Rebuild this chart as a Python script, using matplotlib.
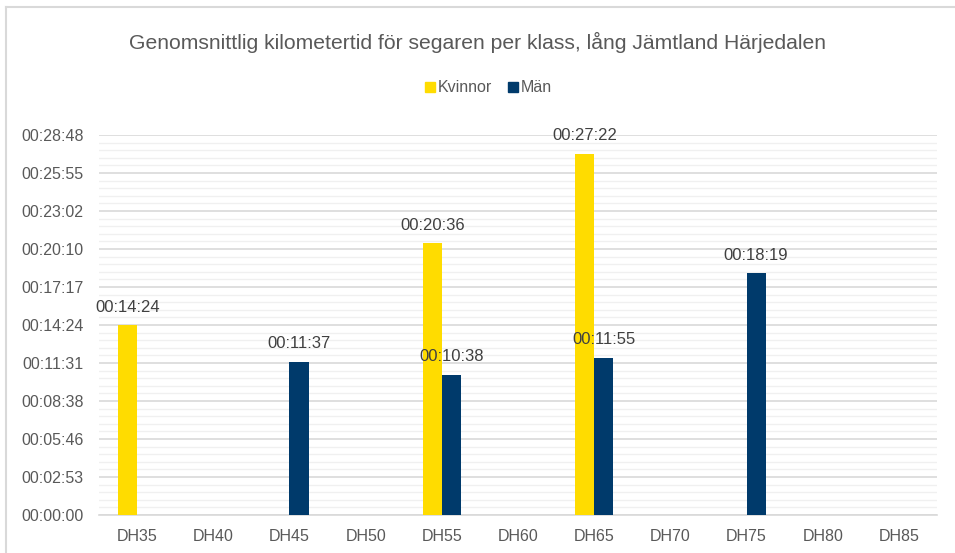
import matplotlib
matplotlib.use("Agg")
import matplotlib.pyplot as plt
from matplotlib.lines import Line2D
from matplotlib.ticker import MultipleLocator, FuncFormatter
import numpy as np

plt.rcParams['font.family'] = ['Liberation Sans', 'DejaVu Sans']

categories = ["DH35", "DH40", "DH45", "DH50", "DH55", "DH60", "DH65", "DH70", "DH75", "DH80", "DH85"]
# times in seconds; None = no value
kvinnor = [864, None, None, None, 1236, None, 1642, None, None, None, None]
man = [None, None, 697, None, 638, None, 715, None, 1099, None, None]
series_names = ["Kvinnor", "Män"]
colors = ["#FFDC00", "#003A6B"]

title = "Genomsnittlig kilometertid för segaren per klass, lång Jämtland Härjedalen"


def fmt(s):
    s = int(round(s))
    return f"{s // 3600:02d}:{(s % 3600) // 60:02d}:{s % 60:02d}"


fig = plt.figure(figsize=(9.55, 5.53), dpi=100)
ax = fig.add_axes([99 / 955, 1 - 515 / 553, (937 - 99) / 955, (515 - 135) / 553])

x = np.arange(len(categories))
w = 0.25
for i, (vals, col) in enumerate(zip([kvinnor, man], colors)):
    xs = [xi + (i - 0.5) * w for xi, v in zip(x, vals) if v is not None]
    vs = [v for v in vals if v is not None]
    ax.bar(xs, vs, width=w, color=col, label=series_names[i], zorder=3)
    for xx, vv in zip(xs, vs):
        ax.annotate(fmt(vv), (xx, vv), xytext=(0, 7.5), textcoords="offset points",
                    ha="center", va="bottom", fontsize=12, color="#404040", zorder=4)

ax.set_xlim(-0.5, len(categories) - 0.5)
ax.set_ylim(0, 1728)
ax.yaxis.set_major_locator(MultipleLocator(172.8))
ax.yaxis.set_minor_locator(MultipleLocator(172.8 / 5))
ax.yaxis.set_major_formatter(FuncFormatter(lambda v, p: fmt(v)))
ax.set_xticks(x)
ax.set_xticklabels(categories)
ax.grid(axis="y", which="major", color="#D9D9D9", linewidth=1.2, zorder=0)
ax.grid(axis="y", which="minor", color="#F0F0F0", linewidth=1.0, zorder=0)
for s in ["top", "right", "left"]:
    ax.spines[s].set_visible(False)
ax.spines["bottom"].set_color("#D9D9D9")
ax.spines["bottom"].set_linewidth(1.2)
ax.tick_params(axis="both", which="both", length=0, labelsize=11.5, colors="#595959")
ax.tick_params(axis="y", pad=11)
ax.tick_params(axis="x", pad=10)

fig.text(0.5, 1 - 42 / 553, title, ha="center", va="center", fontsize=15.2, color="#595959")

handles = [plt.Rectangle((0, 0), 1, 1, color=c) for c in colors]
fig.legend(handles, series_names, loc="center", bbox_to_anchor=(488.5 / 955, 1 - 88 / 553),
           ncol=2, frameon=False, fontsize=11.5, handlelength=0.6, handleheight=0.6,
           handletextpad=0.2, columnspacing=1.0, labelcolor="#595959")

fig.add_artist(Line2D([5.5 / 955, 5.5 / 955], [0, 1 - 7 / 553], transform=fig.transFigure,
                      color="#D9D9D9", linewidth=1.5))
fig.add_artist(Line2D([5.5 / 955, 1], [1 - 7 / 553, 1 - 7 / 553], transform=fig.transFigure,
                      color="#D9D9D9", linewidth=1.5))

fig.savefig("out.png", dpi=100)
